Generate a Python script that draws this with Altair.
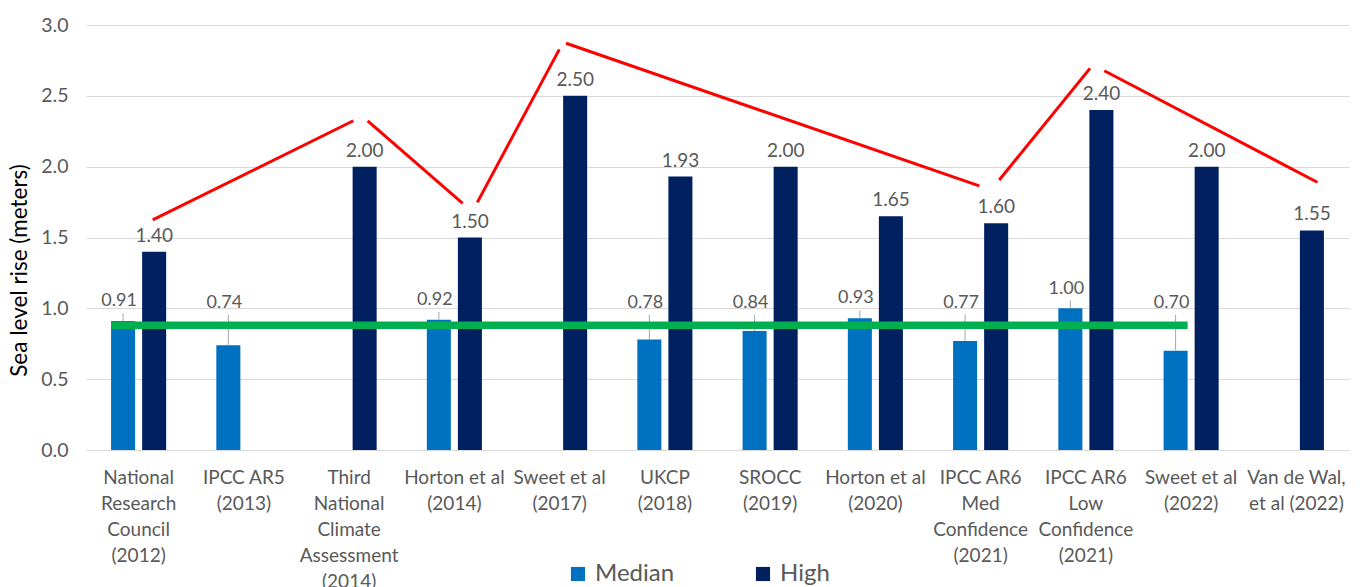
import altair as alt
import pandas as pd

# ---------------- data ----------------
categories = [
    "National|Research|Council|(2012)",
    "IPCC AR5|(2013)",
    "Third|National|Climate|Assessment|(2014)",
    "Horton et al|(2014)",
    "Sweet et al|(2017)",
    "UKCP|(2018)",
    "SROCC|(2019)",
    "Horton et al|(2020)",
    "IPCC AR6|Med|Confidence|(2021)",
    "IPCC AR6|Low|Confidence|(2021)",
    "Sweet et al|(2022)",
    "Van de Wal,|et al (2022)",
]
median = [0.91, 0.74, None, 0.92, None, 0.78, 0.84, 0.93, 0.77, 1.00, 0.70, None]
high = [1.40, None, 2.00, 1.50, 2.50, 1.93, 2.00, 1.65, 1.60, 2.40, 2.00, 1.55]
series = ["Median", "High"]
colors = ["#0070C0", "#002060"]

# green reference line (level, first and last category it spans)
green_level = 0.88
green_first = 0
green_last = 10

# red annotation segments, x in category units (0..12), y in metres
red_seg = [1, 1, 2, 2, 3, 3, 4, 4, 5, 5, 6, 6]
red_x = [0.634, 2.540, 2.676, 3.579, 3.718, 4.497, 4.561, 8.487, 8.677, 9.539, 9.675, 11.699]
red_y = [1.624, 2.324, 2.324, 1.741, 1.748, 2.828, 2.871, 1.864, 1.906, 2.694, 2.677, 1.890]

# ---------------- geometry ----------------
X_PAD_INNER = 0.41
OFF_PAD_INNER = 0.226
OFF_PAD_OUTER = 0.113
band_start = X_PAD_INNER / 2
bandwidth = 1 - X_PAD_INNER
substep = bandwidth / (2 - OFF_PAD_INNER + 2 * OFF_PAD_OUTER)
med_left = band_start + OFF_PAD_OUTER * substep
med_right = med_left + substep * (1 - OFF_PAD_INNER)

FONT = "Lato"
GRAY = "#595959"

rows = []
for i, c in enumerate(categories):
    for s, vals in zip(series, [median, high]):
        v = vals[i]
        if v is not None:
            rows.append({"cat": c, "series": s, "value": v})
df = pd.DataFrame(rows)
df_med = df[df.series == "Median"].copy()
df_high = df[df.series == "High"].copy()

df_green = pd.DataFrame([{"x": green_first + med_left, "x2": green_last + med_right, "y": green_level}])
df_red = pd.DataFrame({"seg": red_seg, "x": red_x, "y": red_y, "order": list(range(len(red_x)))})

x_enc = alt.X(
    "cat:N",
    sort=categories,
    scale=alt.Scale(paddingInner=X_PAD_INNER, paddingOuter=X_PAD_INNER / 2),
    axis=alt.Axis(
        title=None,
        labelExpr="split(datum.label, '|')",
        labelAngle=0,
        labelLineHeight=26,
        labelFontSize=19,
        labelFont=FONT,
        labelColor=GRAY,
        labelPadding=18,
        labelOverlap=False,
        labelLimit=300,
        domain=False,
        ticks=False,
        grid=False,
    ),
)
x_plain = alt.X("cat:N", sort=categories)
off_enc = alt.XOffset(
    "series:N",
    sort=series,
    scale=alt.Scale(domain=series, paddingInner=OFF_PAD_INNER, paddingOuter=OFF_PAD_OUTER),
)
y_scale = alt.Scale(domain=[0, 3], nice=False)

bars = alt.Chart(df).mark_bar().encode(
    x=x_enc,
    xOffset=off_enc,
    y=alt.Y(
        "value:Q",
        scale=y_scale,
        axis=alt.Axis(
            values=[0, 0.5, 1, 1.5, 2, 2.5, 3],
            format=".1f",
            grid=True,
            gridColor="#d9d9d9",
            gridWidth=1.2,
            domain=False,
            ticks=False,
            labelPadding=18,
            labelFontSize=19.5,
            labelFont=FONT,
            labelColor=GRAY,
            title="Sea level rise (meters)",
            titleFont=FONT,
            titleFontSize=22.5,
            titleFontWeight="normal",
            titleColor="#000000",
            titlePadding=9,
            titleY=245,
        ),
    ),
    color=alt.Color(
        "series:N",
        sort=series,
        scale=alt.Scale(domain=series, range=colors),
        legend=alt.Legend(
            title=None,
            orient="none",
            direction="horizontal",
            legendX=480,
            legendY=537,
            symbolType="square",
            symbolSize=200,
            symbolStrokeWidth=0,
            symbolOpacity=1,
            labelFont=FONT,
            labelFontSize=24,
            labelColor=GRAY,
            labelOffset=5,
            columnPadding=76,
            padding=0,
        ),
    ),
)

high_text = alt.Chart(df_high).mark_text(
    font=FONT, fontSize=19, color=GRAY, baseline="alphabetic", dy=-10
).encode(
    x=x_plain,
    xOffset=off_enc,
    y=alt.Y("value:Q", scale=y_scale),
    text=alt.Text("value:Q", format=".2f"),
)

med_base = alt.Chart(df_med).transform_calculate(
    ylab="max(datum.value + 0.14, 1.04)",
    ytop="max(datum.value + 0.14, 1.04) - 0.085",
)

med_text = med_base.mark_text(
    font=FONT, fontSize=18, color=GRAY, baseline="middle", dx=-4
).encode(
    x=x_plain,
    xOffset=off_enc,
    y=alt.Y("ylab:Q", scale=y_scale),
    text=alt.Text("value:Q", format=".2f"),
)

med_leader = med_base.transform_filter("datum.ytop > datum.value + 0.015").mark_rule(
    color="#a6a6a6", strokeWidth=1
).encode(
    x=x_plain,
    xOffset=off_enc,
    y=alt.Y("ytop:Q", scale=y_scale),
    y2="value:Q",
)

u_scale = alt.Scale(domain=[0, len(categories)], nice=False, zero=False)

green = alt.Chart(df_green).mark_rule(color="#00B050", strokeWidth=7.5).encode(
    x=alt.X("x:Q", scale=u_scale, axis=None),
    x2="x2:Q",
    y=alt.Y("y:Q", scale=y_scale),
)

red = alt.Chart(df_red).mark_line(color="#FF0000", strokeWidth=3).encode(
    x=alt.X("x:Q", scale=u_scale, axis=None),
    y=alt.Y("y:Q", scale=y_scale),
    detail="seg:N",
    order="order:Q",
)

band_layers = alt.layer(bars, high_text, med_leader, med_text)
annot_layers = alt.layer(green, red)

chart = (
    alt.layer(band_layers, annot_layers)
    .resolve_scale(x="independent")
    .properties(
        width=1263,
        height=425,
        autosize=alt.AutoSizeParams(type="none"),
        padding={"left": 78, "top": 17, "right": 3, "bottom": 150},
        background="white",
    )
    .configure_view(stroke=None)
)

chart.save("out.html", embed_options={"renderer": "svg", "actions": False})
